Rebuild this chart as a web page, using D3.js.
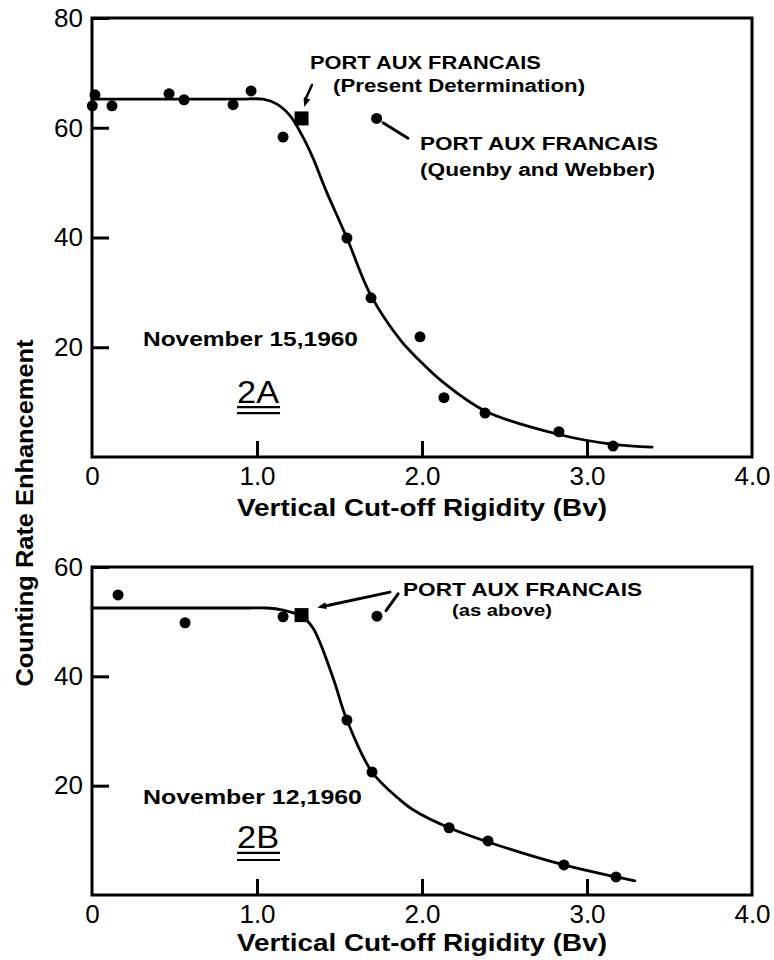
<!DOCTYPE html>
<html>
<head>
<meta charset="utf-8">
<script src="https://cdn.jsdelivr.net/npm/d3@7"></script>
<style>
  body { margin: 0; background: #fff; }
  svg { display: block; }
</style>
</head>
<body>
<svg id="chart"></svg>
<script>
// DATA
// Panel 2A, November 15, 1960: [rigidity (Bv), enhancement]
const pointsA = [
  [0.018, 66.0], [0.002, 64.0], [0.121, 64.0], [0.467, 66.2], [0.558, 65.1],
  [0.855, 64.2], [0.964, 66.7], [1.158, 58.3], [1.545, 39.9], [1.691, 29.0],
  [1.988, 21.9], [2.133, 10.8], [2.382, 8.0], [2.83, 4.6], [3.158, 2.0]
];
const curveA = [
  [0, 65.2], [0.5, 65.2], [0.9, 65.2], [1.036, 65.2], [1.121, 64.3], [1.2, 62.2],
  [1.273, 58.6], [1.339, 54.5], [1.412, 49.0], [1.545, 39.9], [1.691, 29.4],
  [1.867, 21.4], [1.988, 17.5], [2.133, 13.5], [2.382, 8.4], [2.83, 4.1],
  [3.158, 2.3], [3.394, 1.8]
];
const squareA = [1.27, 61.7];   // present determination
const quenbyA = [1.725, 61.7];  // Quenby and Webber

// Panel 2B, November 12, 1960
const pointsB = [
  [0.158, 54.9], [0.564, 49.8], [1.158, 50.9], [1.545, 32.0], [1.697, 22.5],
  [2.164, 12.3], [2.4, 9.9], [2.86, 5.5], [3.176, 3.3]
];
const curveB = [
  [0, 52.5], [0.5, 52.5], [0.95, 52.5], [1.06, 52.5], [1.158, 52.1], [1.27, 51.0],
  [1.34, 48.8], [1.46, 39.8], [1.545, 32.0], [1.697, 22.5], [1.867, 17.4],
  [1.945, 15.6], [2.164, 12.3], [2.4, 9.7], [2.86, 5.5], [3.176, 3.3], [3.29, 2.6]
];
const squareB = [1.27, 51.2];
const quenbyB = [1.727, 51.0];

const xTicks = [0, 1, 2, 3, 4];
const yTicksA = [20, 40, 60, 80];
const yTicksB = [20, 40, 60];

const xTitle = "Vertical Cut-off Rigidity (Bv)";
const yTitle = "Counting Rate Enhancement";

// GEOMETRY
const W = 774, H = 960;
const font = "'Liberation Sans', Arial, sans-serif";

const svg = d3.select("#chart").attr("width", W).attr("height", H);
svg.append("rect").attr("width", W).attr("height", H).attr("fill", "#fff");

const x = d3.scaleLinear().domain([0, 4]).range([92, 752]);

function drawPanel(cfg) {
  const y = d3.scaleLinear().domain([0, cfg.yMax]).range([cfg.bottom, cfg.top]);
  const g = svg.append("g");

  // frame
  g.append("rect")
    .attr("x", x(0)).attr("y", y(cfg.yMax))
    .attr("width", x(4) - x(0)).attr("height", y(0) - y(cfg.yMax))
    .attr("fill", "none").attr("stroke", "#000").attr("stroke-width", 3);

  // axes with inward ticks
  const xa = g.append("g")
    .attr("transform", `translate(0,${y(0)})`)
    .call(d3.axisBottom(x).tickValues(xTicks).tickSize(-16).tickSizeOuter(0).tickPadding(10)
      .tickFormat(d => d === 0 ? "0" : d3.format(".1f")(d)));
  const ya = g.append("g")
    .attr("transform", `translate(${x(0)},0)`)
    .call(d3.axisLeft(y).tickValues(cfg.yTicks).tickSize(-17).tickSizeOuter(0).tickPadding(9));

  [xa, ya].forEach(a => {
    a.select(".domain").remove();
    a.selectAll("line").attr("stroke", "#000").attr("stroke-width", 3);
    a.selectAll("text")
      .attr("font-family", font).attr("font-size", 26).attr("fill", "#000");
  });
  xa.selectAll(".tick").filter(d => d === 0 || d === 4).select("line").remove();

  // x title
  g.append("text")
    .attr("x", 237).attr("y", y(0) + cfg.titleDy)
    .attr("font-family", font).attr("font-size", 23).attr("font-weight", "bold")
    .attr("textLength", 370).attr("lengthAdjust", "spacingAndGlyphs")
    .text(xTitle);

  // fitted curve
  const line = d3.line().x(d => x(d[0])).y(d => y(d[1])).curve(d3.curveCatmullRom.alpha(0.5));
  g.append("path").datum(cfg.curve)
    .attr("d", line)
    .attr("fill", "none").attr("stroke", "#000").attr("stroke-width", 2.8)
    .attr("stroke-linejoin", "round").attr("stroke-linecap", "round");

  // data points
  g.selectAll(".pt").data(cfg.points.concat([cfg.quenby])).join("circle")
    .attr("cx", d => x(d[0])).attr("cy", d => y(d[1]))
    .attr("r", 5.5).attr("fill", "#000");

  // present determination square
  g.append("rect")
    .attr("x", x(cfg.square[0]) - 7).attr("y", y(cfg.square[1]) - 7)
    .attr("width", 14).attr("height", 14).attr("fill", "#000");

  // leaders
  cfg.leaders.forEach(l => {
    g.append("line")
      .attr("x1", x(l[0][0])).attr("y1", y(l[0][1]))
      .attr("x2", x(l[1][0])).attr("y2", y(l[1][1]))
      .attr("stroke", "#000").attr("stroke-width", l[2] || 2.5)
      .attr("stroke-linecap", "round");
  });
  cfg.heads.forEach(h => {
    // small triangular arrow head at h.tip
    const tx = x(h.tip[0]), ty = y(h.tip[1]);
    const fx = x(h.from[0]), fy = y(h.from[1]);
    const ang = Math.atan2(ty - fy, tx - fx);
    const L = 9, Wd = 3.5;
    const bx = tx - L * Math.cos(ang), by = ty - L * Math.sin(ang);
    const px = -Math.sin(ang) * Wd, py = Math.cos(ang) * Wd;
    g.append("path")
      .attr("d", `M${tx},${ty}L${bx + px},${by + py}L${bx - px},${by - py}Z`)
      .attr("fill", "#000");
  });

  // annotation texts
  cfg.labels.forEach(t => {
    g.append("text")
      .attr("x", x(t.at[0])).attr("y", y(t.at[1]))
      .attr("font-family", font).attr("font-size", t.size)
      .attr("font-weight", t.weight || "bold")
      .attr("textLength", t.len).attr("lengthAdjust", "spacingAndGlyphs")
      .text(t.text);
  });

  // panel id with double underline
  const id = cfg.id;
  g.append("text")
    .attr("x", x(id.at[0])).attr("y", y(id.at[1]))
    .attr("font-family", font).attr("font-size", 31)
    .attr("textLength", 42).attr("lengthAdjust", "spacingAndGlyphs")
    .text(id.text);
  id.rules.forEach(v => {
    g.append("line")
      .attr("x1", x(id.at[0])).attr("x2", x(id.at[0]) + 43)
      .attr("y1", y(v)).attr("y2", y(v))
      .attr("stroke", "#000").attr("stroke-width", 2.2);
  });
}

drawPanel({
  yMax: 80, top: 18, bottom: 457, yTicks: yTicksA, titleDy: 59,
  points: pointsA, curve: curveA, square: squareA, quenby: quenbyA,
  leaders: [
    [[1.333, 67.8], [1.291, 65.0], 2.5],
    [[1.764, 60.9], [1.915, 58.1], 3]
  ],
  heads: [{ tip: [1.285, 63.8], from: [1.333, 67.8] }],
  labels: [
    { text: "PORT AUX FRANCAIS", at: [1.321, 70.7], size: 19, len: 231 },
    { text: "(Present Determination)", at: [1.461, 66.5], size: 18, len: 252 },
    { text: "PORT AUX FRANCAIS", at: [1.988, 55.9], size: 19, len: 238 },
    { text: "(Quenby and Webber)", at: [1.988, 51.2], size: 18, len: 235 },
    { text: "November 15,1960", at: [0.309, 20.2], size: 21, len: 215 }
  ],
  id: { text: "2A", at: [0.879, 9.8], rules: [9.1, 8.0] }
});

drawPanel({
  yMax: 60, top: 567, bottom: 895, yTicks: yTicksB, titleDy: 56,
  points: pointsB, curve: curveB, square: squareB, quenby: quenbyB,
  leaders: [
    [[1.806, 55.4], [1.42, 52.9], 3],
    [[1.782, 52.0], [1.855, 55.1], 3]
  ],
  heads: [{ tip: [1.365, 52.6], from: [1.806, 55.4] }],
  labels: [
    { text: "PORT AUX FRANCAIS", at: [1.885, 54.7], size: 18, len: 239 },
    { text: "(as above)", at: [2.182, 51.0], size: 16, len: 100 },
    { text: "November 12,1960", at: [0.309, 16.6], size: 21, len: 219 }
  ],
  id: { text: "2B", at: [0.879, 8.6], rules: [7.7, 6.4] }
});

// shared y title
svg.append("text")
  .attr("transform", "translate(33,513) rotate(-90)")
  .attr("text-anchor", "middle")
  .attr("font-family", font).attr("font-size", 24).attr("font-weight", "bold")
  .attr("textLength", 347).attr("lengthAdjust", "spacingAndGlyphs")
  .text(yTitle);
</script>
</body>
</html>
